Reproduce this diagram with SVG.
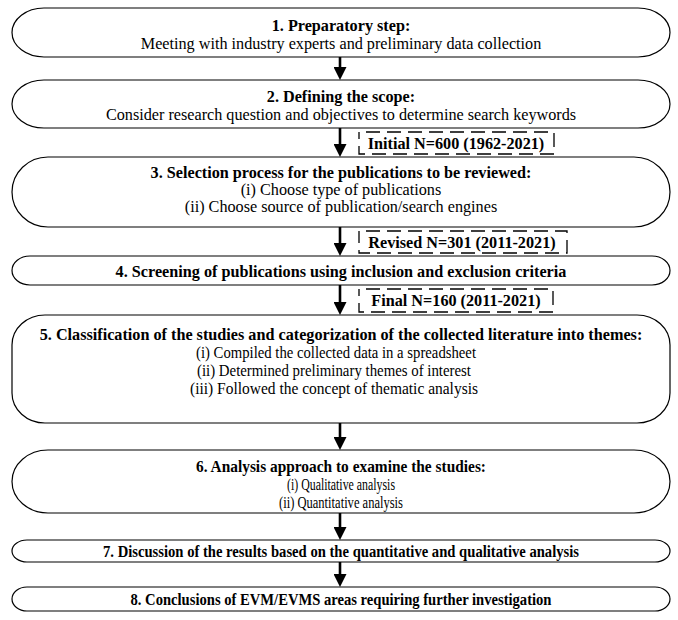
<svg xmlns="http://www.w3.org/2000/svg" width="678" height="620" viewBox="0 0 678 620">
<style>
  .box { fill: #fff; stroke: #000; stroke-width: 1.2; }
  .lbl { fill: #fff; stroke: #000; stroke-width: 1.3; stroke-dasharray: 14 7; stroke-dashoffset: 14; }
  text { font-family: "Liberation Serif", "Times New Roman", serif; font-size: 16.2px; fill: #000; text-anchor: middle; }
  .b { font-weight: bold; }
  .conn line { stroke: #000; stroke-width: 2.6; }
</style>
<defs>
  <marker id="ah" markerUnits="userSpaceOnUse" markerWidth="14" markerHeight="13" viewBox="0 0 14 13" refX="2" refY="6.5" orient="auto">
    <path d="M0,0 L13,6.5 L0,13 z" fill="#000"/>
  </marker>
</defs>
<rect width="678" height="620" fill="#fff"/>

<g id="connectors" class="conn">
  <line x1="340" y1="57" x2="340" y2="69" marker-end="url(#ah)"/>
  <line x1="340" y1="128" x2="340" y2="146" marker-end="url(#ah)"/>
  <line x1="340" y1="227" x2="340" y2="245" marker-end="url(#ah)"/>
  <line x1="340" y1="285" x2="340" y2="304" marker-end="url(#ah)"/>
  <line x1="340" y1="423" x2="340" y2="439" marker-end="url(#ah)"/>
  <line x1="340" y1="513" x2="340" y2="529" marker-end="url(#ah)"/>
  <line x1="340" y1="562" x2="340" y2="576" marker-end="url(#ah)"/>
</g>

<g id="label-initial">
  <rect class="lbl" x="359" y="132" width="195" height="22"/>
  <text class="b" x="456" y="148.5">Initial N=600 (1962-2021)</text>
</g>
<g id="label-revised">
  <rect class="lbl" x="359" y="231" width="208" height="22"/>
  <text class="b" x="462" y="247.5">Revised N=301 (2011-2021)</text>
</g>
<g id="label-final">
  <rect class="lbl" x="359" y="289" width="194" height="23"/>
  <text class="b" x="456" y="305.5">Final N=160 (2011-2021)</text>
</g>

<g id="node1">
  <rect class="box" x="12" y="8" width="658" height="49" rx="32" ry="24.5"/>
  <text class="b" x="341" y="30.5">1. Preparatory step:</text>
  <text x="341" y="48.5">Meeting with industry experts and preliminary data collection</text>
</g>
<g id="node2">
  <rect class="box" x="12" y="80" width="658" height="48" rx="32" ry="24"/>
  <text class="b" x="341" y="101.5">2. Defining the scope:</text>
  <text x="341" y="119.5">Consider research question and objectives to determine search keywords</text>
</g>
<g id="node3">
  <rect class="box" x="12" y="157" width="658" height="70" rx="36" ry="35"/>
  <text class="b" x="341" y="177.5">3. Selection process for the publications to be reviewed:</text>
  <text x="341" y="194.5">(i) Choose type of publications</text>
  <text x="341" y="211.5">(ii) Choose source of publication/search engines</text>
</g>
<g id="node4">
  <rect class="box" x="12" y="256" width="658" height="29" rx="18" ry="14.5"/>
  <text class="b" x="341" y="276.5">4. Screening of publications using inclusion and exclusion criteria</text>
</g>
<g id="node5">
  <rect class="box" x="12" y="315" width="658" height="108" rx="33" ry="30"/>
  <text class="b" x="341" y="339.5">5. Classification of the studies and categorization of the collected literature into themes:</text>
  <text x="336" y="357.5" textLength="280" lengthAdjust="spacingAndGlyphs">(i) Compiled the collected data in a spreadsheet</text>
  <text x="334" y="375.5" textLength="274" lengthAdjust="spacingAndGlyphs">(ii) Determined preliminary themes of interest</text>
  <text x="334" y="393.5" textLength="288" lengthAdjust="spacingAndGlyphs">(iii) Followed the concept of thematic analysis</text>
</g>
<g id="node6">
  <rect class="box" x="12" y="450" width="658" height="63" rx="36" ry="31.5"/>
  <text class="b" x="341" y="471.5" textLength="290" lengthAdjust="spacingAndGlyphs">6. Analysis approach to examine the studies:</text>
  <text x="341" y="489.5" textLength="108" lengthAdjust="spacingAndGlyphs">(i) Qualitative analysis</text>
  <text x="341" y="507.5" textLength="124" lengthAdjust="spacingAndGlyphs">(ii) Quantitative analysis</text>
</g>
<g id="node7">
  <rect class="box" x="12" y="540" width="658" height="22" rx="15" ry="11"/>
  <text class="b" x="341" y="556.5" textLength="476" lengthAdjust="spacingAndGlyphs">7. Discussion of the results based on the quantitative and qualitative analysis</text>
</g>
<g id="node8">
  <rect class="box" x="12" y="587" width="658" height="24" rx="15" ry="12"/>
  <text class="b" x="341" y="604.5" textLength="421" lengthAdjust="spacingAndGlyphs">8. Conclusions of EVM/EVMS areas requiring further investigation</text>
</g>
</svg>
